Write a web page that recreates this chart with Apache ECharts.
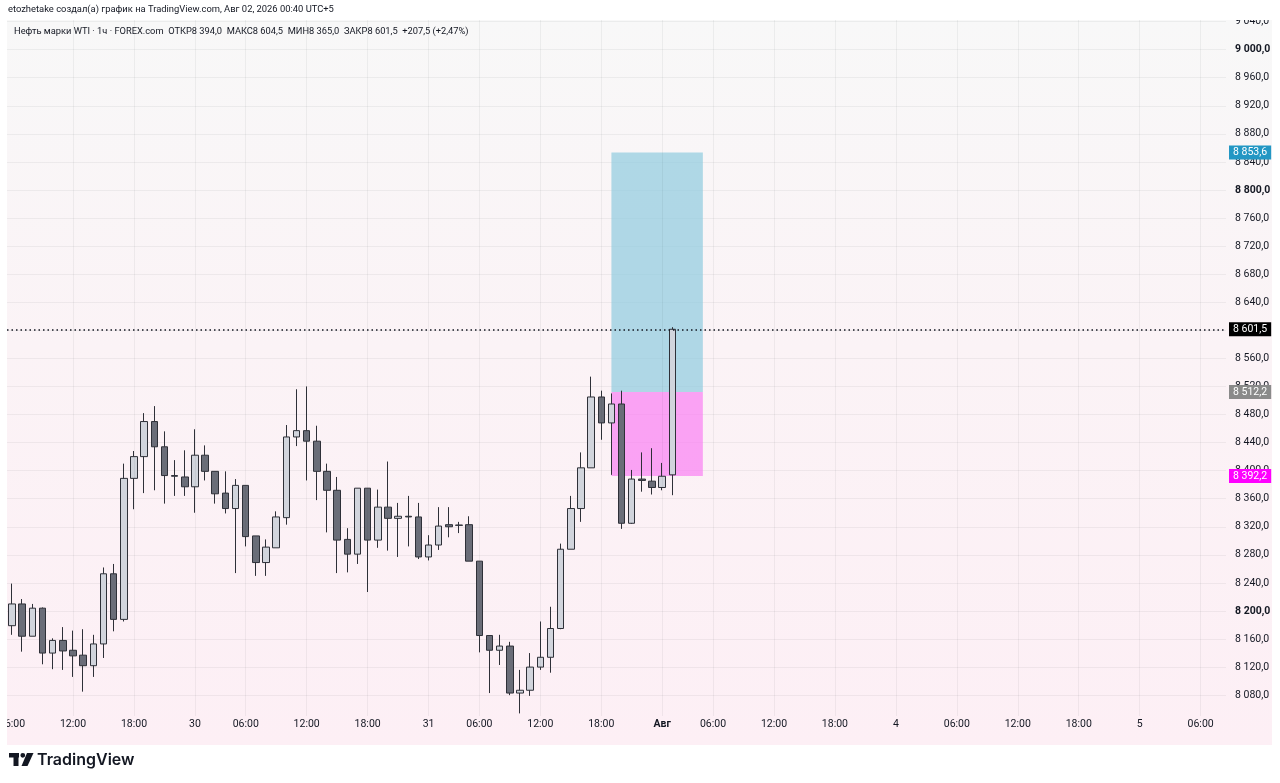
<!DOCTYPE html>
<html>
<head>
<meta charset="utf-8">
<script src="https://cdn.jsdelivr.net/npm/echarts@6/dist/echarts.min.js"></script>
<style>
html,body{margin:0;padding:0;background:#fff;}
#chart{width:1280px;height:783px;}
</style>
</head>
<body>
<div id="chart"></div>
<script>
// ---- Data ----
const categories = [
  '29 06','29 07','29 08','29 09','29 10','29 11','29 12','29 13','29 14','29 15','29 16','29 17','29 18','29 19','29 20','29 21','29 22','29 23',
  '30 00','30 01','30 03','30 04','30 05','30 06','30 07','30 08','30 09','30 10','30 11','30 12','30 13','30 14','30 15','30 16','30 17','30 18','30 19','30 20','30 21','30 22','30 23',
  '31 00','31 01','31 03','31 04','31 05','31 06','31 07','31 08','31 09','31 10','31 11','31 12','31 13','31 14','31 15','31 16','31 17','31 18','31 19','31 20','31 21','31 22','31 23',
  '01 00','01 01',
  '01 03','01 04','01 05','01 06','01 07','01 08','01 09','01 10','01 11','01 12','01 13','01 14','01 15','01 16','01 17','01 18','01 19','01 20','01 21','01 22','01 23',
  '04 00','04 01','04 02','04 03','04 04','04 05','04 06','04 07','04 08','04 09','04 10','04 11','04 12','04 13','04 14','04 15','04 16','04 17','04 18','04 19','04 20','04 21','04 22','04 23',
  '05 00','05 01','05 02','05 03','05 04','05 05','05 06','05 07','05 08'
];
const opens  = [8179,8210,8164,8204,8140,8158,8144,8137,8122,8153,8253,8188,8389,8420,8470,8434,8393,8391,8377,8422,8399,8368,8346,8379,8307,8269,8290,8333,8448,8457,8442,8399,8372,8302,8281,8375,8301,8348,8332,8335,8334,8277,8294,8323,8322,8323,8271,8165,8144,8150,8083,8087,8120,8134,8175,8288,8346,8404,8505,8468,8495,8325,8388,8385,8376,8394];
const highs  = [8239,8217,8210,8205,8161,8177,8172,8174,8166,8262,8267,8410,8428,8482,8492,8456,8415,8429,8459,8436,8399,8399,8388,8379,8307,8302,8342,8465,8516,8520,8464,8410,8391,8318,8375,8375,8373,8413,8354,8364,8354,8308,8348,8348,8327,8335,8271,8165,8166,8156,8116,8140,8185,8206,8296,8364,8426,8534,8514,8510,8514,8401,8426,8432,8411,8604.5];
const lows   = [8166,8142,8164,8124,8117,8116,8106,8085,8106,8133,8171,8185,8345,8368,8372,8353,8364,8364,8340,8386,8353,8339,8254,8292,8250,8250,8290,8323,8435,8386,8358,8312,8254,8255,8267,8227,8290,8286,8277,8292,8274,8272,8287,8305,8311,8271,8141,8083,8123,8080,8054,8079,8116,8112,8174,8288,8327,8404,8444,8394,8317,8324,8370,8366,8372,8365];
const closes = [8210,8164,8204,8140,8158,8143,8136,8122,8153,8253,8188,8389,8420,8470,8434,8393,8392,8377,8422,8399,8367,8346,8379,8306,8269,8291,8334,8448,8457,8442,8399,8372,8301,8281,8375,8301,8348,8332,8335,8334,8277,8294,8321,8320,8322.5,8271,8165,8144,8150,8083,8087,8120,8134,8175,8288,8346,8404,8505,8468,8495,8325,8388,8386,8376,8392,8601.5];

const xTickLabels = {
  '29 06':'06:00','29 12':'12:00','29 18':'18:00','30 00':'30','30 06':'06:00','30 12':'12:00','30 18':'18:00',
  '31 00':'31','31 06':'06:00','31 12':'12:00','31 18':'18:00','01 00':'Авг','01 06':'06:00','01 12':'12:00','01 18':'18:00',
  '04 00':'4','04 06':'06:00','04 12':'12:00','04 18':'18:00','05 00':'5','05 06':'06:00'
};
const boldXLabels = ['Авг'];
const yTicks = [8080,8120,8160,8200,8240,8280,8320,8360,8400,8440,8480,8520,8560,8600,8640,8680,8720,8760,8800,8840,8880,8920,8960,9000,9040];
const boldYTicks = [8200,8800,9000];

// position tool (long) levels
const targetPrice = 8853.6;
const entryPrice = 8512.2;
const stopPrice = 8392.2;
const lastPrice = 8601.5;
const boxStart = '31 19';
const boxEnd = '01 05';

const headerTitle = 'etozhetake создал(а) график на TradingView.com, Авг 02, 2026 00:40 UTC+5';
const headerLegend = 'Нефть марки WTI · 1ч · FOREX.com  ОТКР8 394,0  МАКС8 604,5  МИН8 365,0  ЗАКР8 601,5  +207,5 (+2,47%)';

// ---- Helpers ----
function fmtPrice(v){
  const s = v.toFixed(1).replace('.', ',');
  const parts = s.split(',');
  const int = parts[0].replace(/\B(?=(\d{3})+(?!\d))/g, ' ');
  return int + ',' + parts[1];
}
const candleData = opens.map((o,i)=>[o, closes[i], lows[i], highs[i]]);
const vLines = categories.filter((c,i)=> xTickLabels[c] && i>0).map(c=>({xAxis:c}));

const FONT = 'Roboto';
const TXT = '#131722';
const GRID = 'rgba(42,46,57,0.06)';
const HIDDEN = {color:'rgba(0,0,0,0)', width:1, type:'solid'};
function priceTag(v, bg){
  return {show:true, position:'end', distance:3, formatter:fmtPrice(v), color:'#fff', backgroundColor:bg,
          padding:[2,4,1,4], fontSize:10.5, fontFamily:FONT};
}

const chart = echarts.init(document.getElementById('chart'), null, {renderer:'canvas'});
const option = {
  animation:false,
  backgroundColor:'#ffffff',
  textStyle:{fontFamily:FONT},
  grid:{left:7, right:54, top:20, bottom:67, containLabel:false, outerBoundsMode:'none'},
  xAxis:{
    type:'category', data:categories, boundaryGap:true,
    axisLine:{show:false}, axisTick:{show:false},
    splitLine:{show:false},
    axisLabel:{
      interval:(i,v)=> !!xTickLabels[v],
      formatter:(v)=> boldXLabels.includes(xTickLabels[v]) ? '{b|'+xTickLabels[v]+'}' : (xTickLabels[v]||''),
      margin:3, color:TXT, fontSize:10.5, fontFamily:FONT,
      rich:{b:{fontWeight:'bold', color:TXT, fontSize:10.5, fontFamily:FONT}}
    }
  },
  yAxis:{
    type:'value', position:'right', min:8050.3, max:9042.3, scale:true,
    axisLine:{show:false},
    axisTick:{show:false, customValues:yTicks},
    axisLabel:{
      customValues:yTicks, margin:9, color:TXT, fontSize:10.5, fontFamily:FONT,
      formatter:(v)=> boldYTicks.includes(v) ? '{b|'+fmtPrice(v)+'}' : fmtPrice(v),
      rich:{b:{fontWeight:'bold', color:TXT, fontSize:10.5, fontFamily:FONT}}
    },
    splitLine:{show:true, lineStyle:{color:GRID, width:1}}
  },
  series:[
    {
      type:'line', data:[], z:1, silent:true,
      markLine:{
        silent:true, symbol:'none', animation:false,
        label:{show:false},
        lineStyle:{color:GRID, width:1, type:'solid'},
        data:vLines
      }
    },
    {
      type:'line', data:[], z:1.5, silent:true,
      markArea:{
        silent:true,
        data:[
          [{xAxis:boxStart, yAxis:targetPrice, itemStyle:{color:'rgba(146,204,223,0.72)'}},{xAxis:boxEnd, yAxis:entryPrice}],
          [{xAxis:boxStart, yAxis:entryPrice, itemStyle:{color:'rgba(250,130,242,0.72)'}},{xAxis:boxEnd, yAxis:stopPrice}]
        ]
      }
    },
    {
      type:'candlestick', data:candleData, z:3, barWidth:7,
      itemStyle:{color:'#d1d4dc', color0:'#6a6d78', borderColor:'#2e3038', borderColor0:'#2e3038', borderWidth:1}
    },
    {
      type:'line', data:[], z:5, silent:true,
      markLine:{
        silent:true, symbol:'none', animation:false,
        data:[
          {yAxis:lastPrice, lineStyle:{color:'#131722', width:1.5, type:[1.5,3]}, label:priceTag(lastPrice,'#000000')},
          {yAxis:targetPrice, lineStyle:HIDDEN, label:priceTag(targetPrice,'#2397c4')},
          {yAxis:entryPrice, lineStyle:HIDDEN, label:priceTag(entryPrice,'#8a8a8a')},
          {yAxis:stopPrice, lineStyle:HIDDEN, label:priceTag(stopPrice,'#ff00ff')}
        ]
      }
    }
  ],
  graphic:[
    {type:'rect', z:-10, silent:true, shape:{x:7,y:20,width:1265,height:725},
      style:{fill:new echarts.graphic.LinearGradient(0,0,0,1,[{offset:0,color:'#f8f8f8'},{offset:0.45,color:'#fbf3f6'},{offset:1,color:'#fdeff5'}])}},
    {type:'rect', z:50, silent:true, shape:{x:0,y:0,width:1280,height:20}, style:{fill:'#fff'}},
    {type:'rect', z:50, silent:true, shape:{x:0,y:0,width:7,height:783}, style:{fill:'#fff'}},
    {type:'rect', z:50, silent:true, shape:{x:1272,y:0,width:8,height:783}, style:{fill:'#fff'}},
    {type:'rect', z:50, silent:true, shape:{x:0,y:745,width:1280,height:38}, style:{fill:'#fff'}},
    {type:'text', z:60, silent:true, x:8, y:10, style:{text:headerTitle, fill:TXT, font:'9.4px Roboto', verticalAlign:'middle'}},
    {type:'text', z:60, silent:true, x:14, y:32, style:{text:headerLegend, fill:TXT, font:'9.3px Roboto', verticalAlign:'middle'}},
    {type:'group', z:60, silent:true, children:[
      {type:'rect', z:60, shape:{x:9,y:753,width:10,height:4.5}, style:{fill:'#131722'}},
      {type:'rect', z:60, shape:{x:13.5,y:753,width:5,height:13}, style:{fill:'#131722'}},
      {type:'circle', z:60, shape:{cx:22.8,cy:755.3,r:2.4}, style:{fill:'#131722'}},
      {type:'polygon', z:60, shape:{points:[[27,753],[33.5,753],[27.5,766],[21.5,766]]}, style:{fill:'#131722'}},
      {type:'text', z:60, x:37, y:760, style:{text:'TradingView', fill:'#131722', font:'600 16px Inter', verticalAlign:'middle'}}
    ]}
  ]
};
chart.setOption(option);
</script>
</body>
</html>
